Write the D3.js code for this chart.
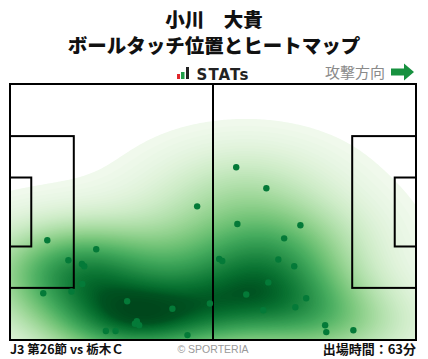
<!DOCTYPE html>
<html><head><meta charset="utf-8">
<script src="https://cdn.jsdelivr.net/npm/d3@7"></script>
<style>
html,body{margin:0;padding:0;background:#fff;}
svg{display:block;}
</style></head>
<body>
<svg id="chart" width="428" height="359"></svg>
<script>
// ---- data (pitch metres: 105 x 68, y from top touchline) ----
const titleLines = ["小川　大貴", "ボールタッチ位置とヒートマップ"];
const footerLeft = "J3 第26節 vs 栃木Ｃ";
const footerCenter = "© SPORTERIA";
const footerRight = "出場時間：63分";
const directionLabel = "攻撃方向";
const touchX = [9.65,22.3,15.1,18.6,19.2,18.7,8.6,15.9,30.3,42.0,51.7,32.8,32.3,33.4,24.8,27.3,45.9,48.4,
                58.5,66.3,58.8,75.1,70.9,54.1,54.9,69.4,73.5,66.8,61.1,76.6,73.8,65.5,81.5,81.8,88.8];
const touchY = [41.5,43.9,46.8,47.8,48.4,53.1,55.6,55.1,57.7,59.7,58.3,63.0,63.7,64.1,65.6,65.6,66.7,32.5,
                22.1,27.7,37.2,37.5,41.0,46.5,47.0,46.6,48.4,52.7,55.9,56.9,59.3,60.1,64.1,65.9,65.4];

const JP = "'Noto Sans CJK JP','Noto Sans',sans-serif";
const svg = d3.select("#chart");
const x = d3.scaleLinear().domain([0,105]).range([10,416]);
const y = d3.scaleLinear().domain([0,68]).range([84,340]);

// ---- titles ----
svg.append("text").attr("x",214).attr("y",26.5).attr("text-anchor","middle").style("font-family",JP)
  .style("font-size","19.5px").style("font-weight","900").attr("fill","#111").text(titleLines[0]);
svg.append("text").attr("x",214).attr("y",53).attr("text-anchor","middle").style("font-family",JP)
  .style("font-size","19.5px").style("font-weight","900").attr("fill","#111").text(titleLines[1]);

// STATs logo
const logo = svg.append("g");
logo.append("rect").attr("x",177).attr("y",74).attr("width",3).attr("height",5).attr("fill","#e0262b");
logo.append("rect").attr("x",181).attr("y",72).attr("width",3.5).attr("height",7).attr("fill","#1f9e48");
logo.append("rect").attr("x",186).attr("y",67).attr("width",3).attr("height",12).attr("fill","#222");
svg.append("text").attr("x",196.5).attr("y",79.5).style("font-family","'DejaVu Sans',sans-serif")
  .style("font-size","15px").style("font-weight","bold").style("letter-spacing","1.1px")
  .attr("fill","#222").text("STATs");

// direction label + arrow
svg.append("text").attr("x",385).attr("y",78).attr("text-anchor","end").style("font-family",JP)
  .style("font-size","15px").attr("fill","#8a8a8a").text(directionLabel);
svg.append("path").attr("d","M391,68.5 H404 V63.5 L414,72 L404,80.5 V75.5 H391 Z").attr("fill","#17913f");

// ---- KDE heatmap ----
const pts = touchX.map((d,i)=>[x(touchX[i]), y(touchY[i])]);
const n = pts.length;
const mx = d3.mean(pts,p=>p[0]), my = d3.mean(pts,p=>p[1]);
let sxx=0, syy=0, sxy=0;
pts.forEach(p=>{sxx+=(p[0]-mx)**2; syy+=(p[1]-my)**2; sxy+=(p[0]-mx)*(p[1]-my);});
sxx/=(n-1); syy/=(n-1); sxy/=(n-1);
const bwAdjust = 1.2;
const fac = Math.pow(n, -1/6)*bwAdjust;
const cxx=sxx*fac*fac, cyy=syy*fac*fac, cxy=sxy*fac*fac;
const det = cxx*cyy-cxy*cxy;
const ixx=cyy/det, iyy=cxx/det, ixy=-cxy/det;

const step=2, gx0=-200, gy0=-120, gx1=630, gy1=540;
const nx=Math.ceil((gx1-gx0)/step), ny=Math.ceil((gy1-gy0)/step);
const vals = new Float64Array(nx*ny);
for(let j=0;j<ny;j++){
  const py=gy0+j*step;
  for(let i=0;i<nx;i++){
    const px=gx0+i*step;
    let s=0;
    for(let k=0;k<n;k++){
      const dx=px-pts[k][0], dy=py-pts[k][1];
      s+=Math.exp(-0.5*(ixx*dx*dx+2*ixy*dx*dy+iyy*dy*dy));
    }
    vals[j*nx+i]=s;
  }
}
// iso-proportion levels, coloured by level index
const sorted = Array.from(vals).sort((a,b)=>b-a);
const total = d3.sum(sorted);
const cum = new Float64Array(sorted.length);
let acc=0; for(let i=0;i<sorted.length;i++){acc+=sorted[i]; cum[i]=acc/total;}
const nLevels=100, thresh=0.018;
const levels=[];
for(let l=0;l<nLevels;l++){
  const q = thresh + (1-thresh)*l/(nLevels-1);
  let idx = d3.bisectLeft(cum, 1-q);
  idx = Math.min(idx, sorted.length-1);
  levels.push(sorted[idx]);
}
const uniq = Array.from(new Set(levels)).sort((a,b)=>a-b);
const tScale = d3.scalePow().exponent(0.85).domain([0, uniq.length-1]).range([0.05, 1]);
const contours = d3.contours().size([nx,ny]).thresholds(uniq)(Array.from(vals));
const proj = d3.geoIdentity().scale(step).translate([gx0 - step/2, gy0 - step/2]);
const path = d3.geoPath(proj);

svg.append("clipPath").attr("id","pitchClip").append("rect")
  .attr("x",x(0)).attr("y",y(0)).attr("width",x(105)-x(0)).attr("height",y(68)-y(0));
const heat = svg.append("g").attr("clip-path","url(#pitchClip)");
contours.forEach((c,i)=>{
  heat.append("path").attr("d",path(c)).attr("fill",d3.interpolateGreens(tScale(i))).attr("stroke","none");
});

// ---- pitch lines ----
const lines = svg.append("g").attr("fill","none").attr("stroke","#000").attr("stroke-width",2);
lines.append("rect").attr("x",x(0)).attr("y",y(0)).attr("width",x(105)-x(0)).attr("height",y(68)-y(0));
lines.append("line").attr("x1",x(52.5)).attr("x2",x(52.5)).attr("y1",y(0)).attr("y2",y(68));
lines.append("rect").attr("x",x(0)).attr("y",y(13.84)).attr("width",x(16.5)-x(0)).attr("height",y(54.16)-y(13.84));
lines.append("rect").attr("x",x(105-16.5)).attr("y",y(13.84)).attr("width",x(16.5)-x(0)).attr("height",y(54.16)-y(13.84));
lines.append("rect").attr("x",x(0)).attr("y",y(24.84)).attr("width",x(5.5)-x(0)).attr("height",y(43.16)-y(24.84));
lines.append("rect").attr("x",x(105-5.5)).attr("y",y(24.84)).attr("width",x(5.5)-x(0)).attr("height",y(43.16)-y(24.84));

// ---- touch points ----
svg.append("g").selectAll("circle").data(touchX).join("circle")
  .attr("cx",(d,i)=>x(touchX[i])).attr("cy",(d,i)=>y(touchY[i])).attr("r",3.2)
  .attr("fill","#047a38");

// ---- footer ----
svg.append("text").attr("x",10).attr("y",354).style("font-family",JP).style("font-size","12.5px")
  .style("font-weight","bold").attr("fill","#111").text(footerLeft);
svg.append("text").attr("x",213).attr("y",353).attr("text-anchor","middle")
  .style("font-family","'Liberation Sans',sans-serif").style("font-size","10.5px")
  .attr("fill","#999").text(footerCenter);
svg.append("text").attr("x",416).attr("y",354).attr("text-anchor","end").style("font-family",JP)
  .style("font-size","13px").style("font-weight","bold").attr("fill","#111").text(footerRight);
</script>
</body></html>
